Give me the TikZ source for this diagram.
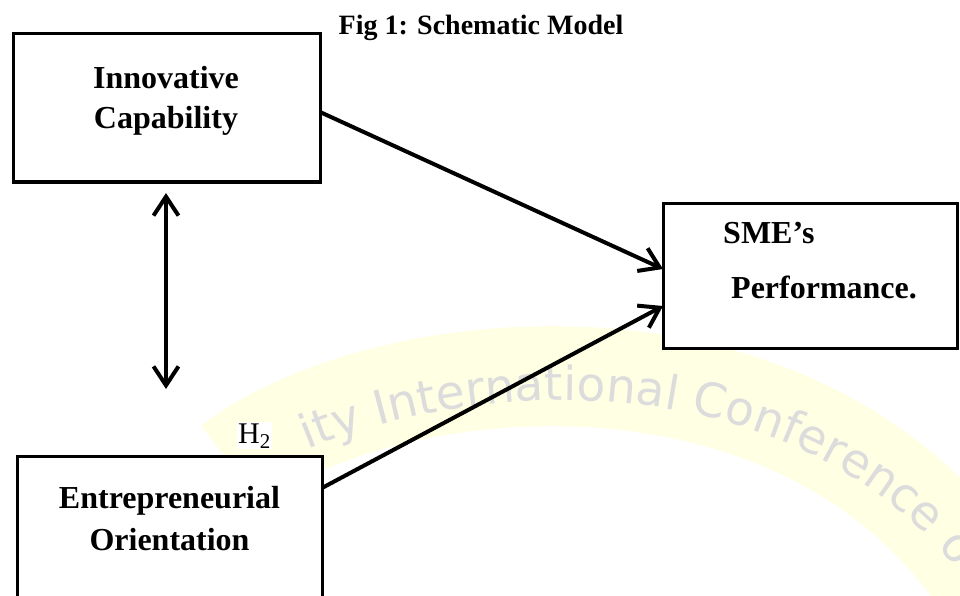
\documentclass[tikz,border=0pt]{standalone}
\usepackage{fontspec}
\setmainfont{Liberation Serif}
\newfontfamily\wmfam{DejaVu Sans}
\usetikzlibrary{arrows.meta,decorations.text}
\definecolor{wmyellow}{RGB}{255,255,228}
\definecolor{wmgray}{RGB}{220,220,220}
\newcommand\wmstyle{\wmfam\fontsize{47}{47}\selectfont}
\begin{document}
\begin{tikzpicture}[x=1pt,y=-1pt,
  box/.style={draw=black, fill=white, line width=3pt, inner sep=0pt, outer sep=0pt},
  lbl/.style={font=\bfseries\fontsize{32}{38}\selectfont, inner sep=0pt, anchor=base},
  conn/.style={line width=4pt, -{Straight Barb[length=19pt,width=25pt]}},
  dconn/.style={line width=4pt, {Straight Barb[length=19pt,width=25pt]}-{Straight Barb[length=19pt,width=25pt]}}]
\useasboundingbox (0,0) rectangle (960,596);
\clip (0,0) rectangle (960,596);
\fill[white] (0,0) rectangle (960,596);
% watermark
\draw[line width=100pt, draw=wmyellow, yshift=20pt, shorten <=40pt] (200,510) .. controls (380,370) and (820,320) .. (1000,630);
\path[decorate, decoration={text along path, text={|\wmstyle|ity International Conference o}, text color=wmgray, text align={left indent=124pt}}] (200,510) .. controls (380,370) and (820,320) .. (1000,630);
% boxes
\node[box, minimum width=307pt, minimum height=148pt] (ic) at (166.5,108) {};
\node[box, minimum width=294pt, minimum height=145pt] (sp) at (810,275.5) {};
\node[box, minimum width=305pt, minimum height=184pt] (eo) at (169.5,548) {};
% labels
\node[font=\bfseries\fontsize{28}{34}\selectfont, inner sep=0pt, anchor=base] (title) at (481,35) {Fig 1: Schematic Model};
\node[lbl] (ic1) at (166,89) {Innovative};
\node[lbl] (ic2) at (166,129) {Capability};
\node[lbl, anchor=base west] (sp1) at (723,243) {SME’s};
\node[lbl, anchor=base west] (sp2) at (731,298) {Performance.};
\node[lbl] (eo1) at (169.5,508) {Entrepreneurial};
\node[lbl] (eo2) at (169.5,550) {Orientation};
\node[font=\fontsize{30}{36}\selectfont, fill=white, inner sep=1pt, anchor=base west] (h2) at (237,443) {H\textsubscript{2}};
% connectors
\coordinate (ua) at (166,193);
\coordinate (ub) at (166,389);
\draw[dconn] (ua) -- (ub);
\draw[conn] ([yshift=-4pt]ic.east) -- ([yshift=6.5pt]sp.west);
\draw[conn] ([yshift=-32pt]eo.north east) -- ([yshift=-30.5pt]sp.west);
\end{tikzpicture}
\end{document}
